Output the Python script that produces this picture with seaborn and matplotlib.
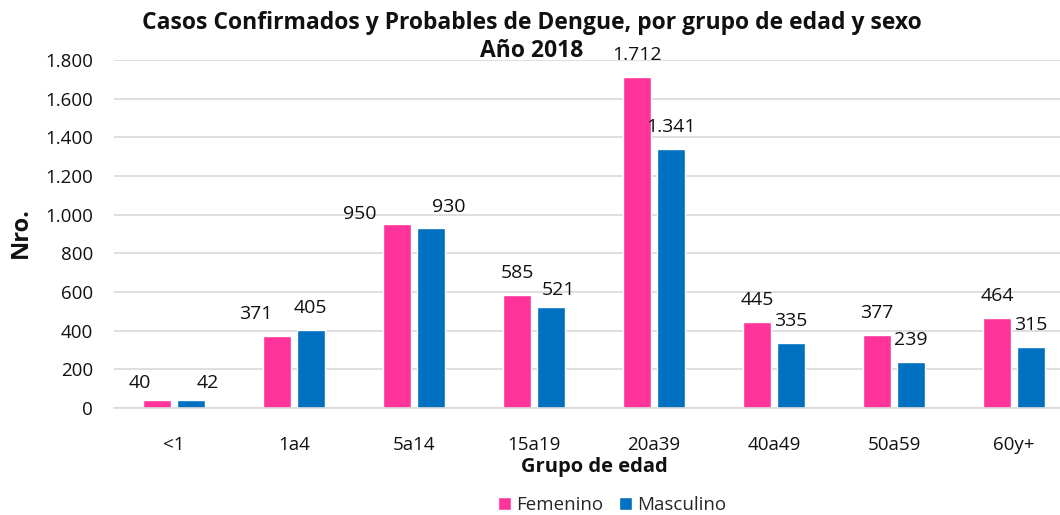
import matplotlib
matplotlib.use("Agg")
import matplotlib.pyplot as plt
import seaborn as sns
import pandas as pd

categories = ["<1", "1a4", "5a14", "15a19", "20a39", "40a49", "50a59", "60y+"]
femenino = [40, 371, 950, 585, 1712, 445, 377, 464]
masculino = [42, 405, 930, 521, 1341, 335, 239, 315]
series_names = ["Femenino", "Masculino"]
colors = ["#FF3399", "#0070C0"]
yticks = [0, 200, 400, 600, 800, 1000, 1200, 1400, 1600, 1800]

# label nudges (pixels) mimicking the original's label placement: (series, category index) -> (dx, dy)
label_nudge = {
    (0, 0): (-17, -5), (1, 0): (17, -5),
    (0, 1): (-21, 0), (1, 1): (-1, 0),
    (0, 2): (-37, -12), (1, 2): (18, -1),
    (1, 3): (7, -5),
}

df = pd.DataFrame({
    "grupo": categories * 2,
    "sexo": [series_names[0]] * len(categories) + [series_names[1]] * len(categories),
    "valor": femenino + masculino,
})

sns.set_theme(style="white")
plt.rcParams["font.family"] = ["Open Sans", "DejaVu Sans"]

fig = plt.figure(figsize=(10.6, 5.15), dpi=100)
ax = fig.add_axes([114 / 1060, 1 - 408 / 515, (1060 - 114) / 1060, (408 - 60) / 515])

sns.barplot(data=df, x="grupo", y="valor", hue="sexo", order=categories,
            hue_order=series_names, palette=colors, width=0.567, gap=0.205,
            ax=ax, legend=True, saturation=1)

ax.set_ylim(0, 1800)
ax.set_xlim(-0.5, 7.5 - 14 / 120)
ax.set_yticks(yticks)
ax.set_yticklabels([f"{v:,}".replace(",", ".") for v in yticks], fontsize=13.5, color="#111111")
ax.tick_params(axis="x", labelsize=13.5, colors="#111111", length=0, pad=20)
ax.tick_params(axis="y", length=0, pad=15)
ax.grid(axis="y", color="#D9D9D9", linewidth=1.2)
ax.set_axisbelow(True)
for s in ["left", "right", "top"]:
    ax.spines[s].set_visible(False)
ax.spines["bottom"].set_color("#D9D9D9")
ax.spines["bottom"].set_linewidth(1.2)

px2pt = 72 / 100
base_px = 13
for si, cont in enumerate(ax.containers):
    for ci, (bar, v) in enumerate(zip(cont.patches, cont.datavalues)):
        dx, dy = label_nudge.get((si, ci), (0, 0))
        ax.annotate(f"{int(v):,}".replace(",", "."),
                    xy=(bar.get_x() + bar.get_width() / 2, bar.get_height()),
                    xytext=(dx * px2pt, (base_px + dy) * px2pt), textcoords="offset points",
                    ha="center", va="bottom", fontsize=14, color="#111111",
                    annotation_clip=False)

ax.set_xlabel("")
ax.set_ylabel("")
fig.text(594 / 1060, 1 - 467 / 515, "Grupo de edad", ha="center", va="center",
         fontsize=14.5, fontweight="bold", color="#111111")
fig.text(21 / 1060, 1 - 233 / 515, "Nro.", ha="center", va="center", rotation=90,
         fontsize=17, fontweight="bold", color="#111111")

ax.legend_.remove()
handles, labels_ = ax.get_legend_handles_labels()
fig.legend(handles, labels_, loc="center", bbox_to_anchor=(612 / 1060, 1 - 505 / 515),
           ncol=2, frameon=False, fontsize=13.5, handlelength=0.7, handleheight=0.7,
           handletextpad=0.3, columnspacing=0.8)

fig.text(532 / 1060, 1 - 23 / 515, "Casos Confirmados y Probables de Dengue, por grupo de edad y sexo",
         ha="center", va="center", fontsize=16.5, fontweight="bold", color="#111111")
fig.text(532 / 1060, 1 - 51 / 515, "Año 2018", ha="center", va="center",
         fontsize=16.5, fontweight="bold", color="#111111")

fig.savefig("out.png", dpi=100)
